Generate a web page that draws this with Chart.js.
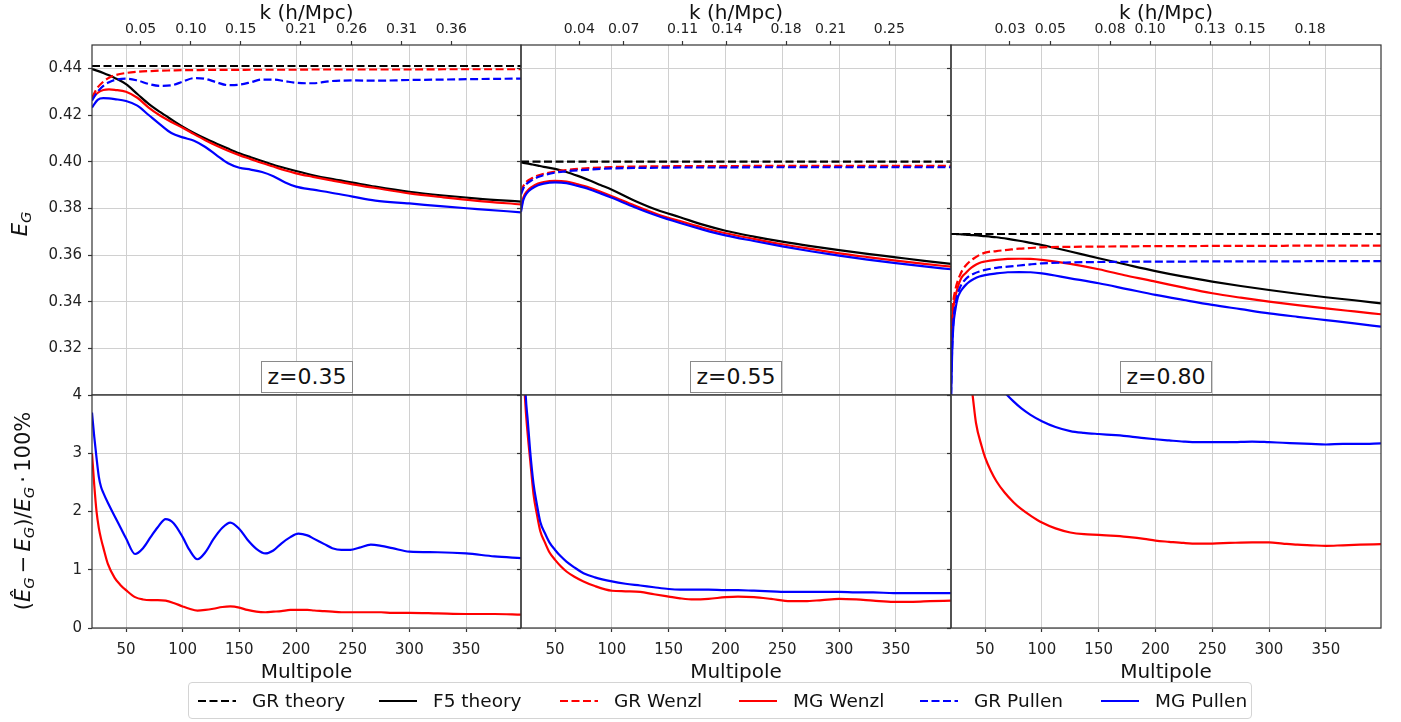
<!DOCTYPE html>
<html><head><meta charset="utf-8">
<script src="https://cdn.jsdelivr.net/npm/chart.js@4.4.0/dist/chart.umd.min.js"></script>
<style>
body{margin:0;width:1401px;height:722px;background:#fff;position:relative;overflow:hidden;font-family:'DejaVu Sans',sans-serif;}
canvas{position:absolute;}
.zbox{position:absolute;top:361px;width:92px;height:32px;line-height:30px;border:1px solid #8a8a8a;background:#fff;font-size:22px;text-align:center;color:#111;box-sizing:border-box;}
.ylab{position:absolute;transform:translate(-50%,-50%) rotate(-90deg);white-space:nowrap;font-size:21px;color:#111;}
.ylab sub{font-size:0.7em;vertical-align:-0.25em;line-height:0;}
.op{margin:0 0.2em;}
#legend{position:absolute;left:188px;top:682px;width:1064px;height:37px;border:1px solid #d4d4d4;border-radius:4px;background:#fff;box-sizing:border-box;}
.li{position:absolute;top:0;height:35px;display:flex;align-items:center;font-size:18.5px;color:#111;white-space:nowrap;}
.li svg{margin-right:16px;}
</style></head><body>
<script>
// ---------- shared axis values ----------
const ELL_MIN = 20, ELL_MAX = 398.5;
const multipoleTicks = [50, 100, 150, 200, 250, 300, 350];
const egTicks = [0.32, 0.34, 0.36, 0.38, 0.40, 0.42, 0.44];
const diffTicks = [0, 1, 2, 3, 4];
const ellEnds = [20, 398.5];

// k (h/Mpc) top-axis ticks (positions in multipole, labels in k)
const kPos035 = [62.9, 107.3, 151.2, 204.3, 249.0, 293.2, 337.0];
const kLab035 = ['0.05', '0.10', '0.15', '0.21', '0.26', '0.31', '0.36'];
const kPos055 = [71.3, 110.4, 162.3, 201.3, 253.3, 292.6, 344.2];
const kLab055 = ['0.04', '0.07', '0.11', '0.14', '0.18', '0.21', '0.25'];
const kPos080 = [71.9, 107.4, 160.0, 195.2, 248.0, 283.2, 336.0];
const kLab080 = ['0.03', '0.05', '0.08', '0.10', '0.13', '0.15', '0.18'];

// ---------- z = 0.35, E_G ----------
const ell035 = [20,25,30,35,40,50,60,70,80,90,100,110,120,130,140,150,160,170,180,190,200,215,230,250,270,300,330,360,398.5];
const grTheory035 = [0.441, 0.441];
const f5Theory035 = [0.4397,0.4389,0.4380,0.4370,0.4359,0.4332,0.4290,0.4248,0.4213,0.4181,0.4150,0.4123,0.4099,0.4077,0.4056,0.4036,0.4019,0.4003,0.3987,0.3973,0.3960,0.3942,0.3927,0.3910,0.3893,0.3871,0.3855,0.3842,0.3829];
const grWenzl035 = [0.4275,0.4318,0.4343,0.4360,0.4370,0.4380,0.4385,0.4388,0.4390,0.4391,0.4392,0.4392,0.4393,0.4393,0.4393,0.4393,0.4394,0.4394,0.4394,0.4394,0.4394,0.4395,0.4395,0.4395,0.4395,0.4395,0.4396,0.4396,0.4396];
const mgWenzl035 = [0.4272,0.4295,0.4307,0.4310,0.4308,0.4300,0.4274,0.4232,0.4198,0.4170,0.4145,0.4118,0.4092,0.4068,0.4047,0.4028,0.4011,0.3994,0.3979,0.3963,0.3950,0.3935,0.3921,0.3903,0.3887,0.3864,0.3847,0.3832,0.3817];
const grPullen035 = [0.4262,0.4300,0.4325,0.4340,0.4350,0.4356,0.4348,0.4333,0.4325,0.4327,0.4343,0.4358,0.4355,0.4340,0.4328,0.4330,0.4340,0.4352,0.4352,0.4345,0.4338,0.4336,0.4345,0.4348,0.4347,0.4350,0.4352,0.4354,0.4356];
const mgPullen035 = [0.4232,0.4265,0.4272,0.4271,0.4268,0.4260,0.4240,0.4200,0.4160,0.4123,0.4104,0.4090,0.4063,0.4027,0.3993,0.3974,0.3966,0.3956,0.3938,0.3912,0.3893,0.3880,0.3868,0.3850,0.3833,0.3821,0.3808,0.3797,0.3783];

// ---------- z = 0.55, E_G ----------
const ell055 = [20,22,25,30,35,40,50,60,70,80,90,100,120,140,160,180,200,225,250,275,300,325,350,375,398.5];
const grTheory055 = [0.400, 0.400];
const f5Theory055 = [0.3997,0.3995,0.3993,0.3988,0.3983,0.3978,0.3969,0.3956,0.3939,0.3920,0.3900,0.3880,0.3833,0.3793,0.3762,0.3730,0.3704,0.3679,0.3657,0.3638,0.3621,0.3605,0.3590,0.3575,0.3562];
const grWenzl055 = [0.3870,0.3895,0.3915,0.3930,0.3941,0.3948,0.3958,0.3964,0.3969,0.3972,0.3975,0.3977,0.3979,0.3980,0.3981,0.3981,0.3981,0.3982,0.3982,0.3982,0.3982,0.3982,0.3982,0.3982,0.3982];
const mgWenzl055 = [0.3795,0.3845,0.3872,0.3893,0.3906,0.3913,0.3918,0.3915,0.3903,0.3889,0.3871,0.3852,0.3812,0.3775,0.3745,0.3717,0.3693,0.3669,0.3646,0.3626,0.3607,0.3591,0.3576,0.3562,0.3550];
const grPullen055 = [0.3860,0.3885,0.3905,0.3922,0.3934,0.3942,0.3953,0.3959,0.3963,0.3966,0.3969,0.3971,0.3973,0.3974,0.3975,0.3975,0.3975,0.3976,0.3976,0.3976,0.3976,0.3976,0.3976,0.3976,0.3976];
const mgPullen055 = [0.3785,0.3835,0.3864,0.3886,0.3899,0.3906,0.3911,0.3908,0.3896,0.3882,0.3864,0.3845,0.3805,0.3768,0.3737,0.3709,0.3684,0.3660,0.3637,0.3616,0.3597,0.3580,0.3565,0.3551,0.3539];

// ---------- z = 0.80, E_G ----------
const ell080 = [20,21,22,24,26,28,30,33,36,40,45,50,60,70,80,90,100,125,150,175,200,225,250,275,300,325,350,375,398.5];
const grTheory080 = [0.369, 0.369];
const f5Theory080 = [0.3690,0.3690,0.3690,0.3690,0.3689,0.3689,0.3688,0.3687,0.3686,0.3685,0.3683,0.3681,0.3676,0.3669,0.3661,0.3652,0.3643,0.3615,0.3586,0.3558,0.3531,0.3507,0.3486,0.3467,0.3450,0.3434,0.3419,0.3406,0.3393];
const grWenzl080 = [0.326,0.334,0.340,0.3455,0.349,0.3515,0.3535,0.3555,0.357,0.3585,0.3600,0.3610,0.3617,0.3622,0.3627,0.3630,0.3633,0.3635,0.3636,0.3637,0.3638,0.3638,0.3639,0.3639,0.3639,0.3640,0.3640,0.3640,0.3640];
const mgWenzl080 = [0.322,0.330,0.337,0.3425,0.3462,0.349,0.3508,0.3523,0.3538,0.3553,0.3566,0.3572,0.3579,0.3583,0.3584,0.3583,0.3579,0.3562,0.3539,0.3511,0.3486,0.3460,0.3436,0.3417,0.3400,0.3385,0.3371,0.3358,0.3346];
const grPullen080 = [0.300,0.320,0.331,0.339,0.3435,0.3462,0.348,0.3497,0.351,0.352,0.3529,0.3536,0.3545,0.3550,0.3555,0.3560,0.3564,0.3568,0.3570,0.3571,0.3572,0.3572,0.3573,0.3573,0.3573,0.3573,0.3574,0.3574,0.3574];
const mgPullen080 = [0.296,0.318,0.329,0.337,0.3418,0.3440,0.3455,0.3472,0.3485,0.3497,0.3508,0.3514,0.3521,0.3526,0.3527,0.3526,0.3521,0.3500,0.3479,0.3454,0.3429,0.3407,0.3386,0.3368,0.3350,0.3335,0.3321,0.3307,0.3293];

// ---------- relative differences (%) ----------
const ellDiff035 = [20,22,24,26,28,30,34,40,45,50,58,65,72,78,85,92,100,106,113,120,127,135,142,150,157,165,173,180,187,195,202,210,216,225,232,240,248,256,266,275,285,300,325,350,375,398.5];
const diffPullen035 = [3.70,3.28,2.92,2.60,2.42,2.32,2.15,1.92,1.73,1.54,1.27,1.37,1.57,1.73,1.87,1.80,1.56,1.34,1.18,1.30,1.52,1.72,1.81,1.70,1.52,1.36,1.28,1.33,1.45,1.56,1.62,1.59,1.53,1.44,1.37,1.34,1.34,1.38,1.43,1.41,1.37,1.31,1.30,1.28,1.23,1.20];
const diffWenzl035 = [3.00,2.45,2.00,1.72,1.53,1.38,1.10,0.86,0.74,0.65,0.53,0.49,0.48,0.48,0.47,0.43,0.37,0.33,0.30,0.31,0.33,0.36,0.37,0.35,0.31,0.28,0.27,0.28,0.29,0.31,0.31,0.31,0.30,0.29,0.28,0.27,0.27,0.27,0.27,0.27,0.26,0.26,0.25,0.24,0.24,0.23];

const ellDiff055 = [20,22,24,26,28,31,34,37,41,45,50,55,60,67,75,85,100,112,125,137,150,160,172,185,200,211,225,240,257,270,285,300,315,330,348,365,380,398.5];
const diffWenzl055 = [6.5,4.6,3.8,3.3,2.9,2.30,1.95,1.66,1.47,1.30,1.17,1.06,0.97,0.88,0.80,0.72,0.64,0.63,0.62,0.58,0.54,0.51,0.49,0.50,0.53,0.54,0.53,0.50,0.46,0.46,0.48,0.50,0.49,0.47,0.45,0.45,0.46,0.47];
const diffPullen055 = [7.5,5.3,4.05,3.55,3.05,2.48,2.12,1.82,1.63,1.47,1.34,1.23,1.14,1.04,0.94,0.87,0.80,0.76,0.73,0.70,0.67,0.66,0.66,0.66,0.65,0.65,0.64,0.63,0.62,0.62,0.62,0.62,0.61,0.61,0.60,0.60,0.60,0.60];

const ellDiff080 = [20,25,30,35,39,42,47,50,55,60,67,75,82,90,100,112,125,137,150,165,177,190,200,212,225,237,250,265,285,300,312,325,337,350,365,380,398.5];
const diffWenzl080 = [9.0,7.0,5.6,4.6,4.0,3.52,3.12,2.93,2.70,2.52,2.33,2.16,2.04,1.93,1.81,1.71,1.64,1.61,1.60,1.58,1.56,1.53,1.50,1.48,1.46,1.45,1.45,1.46,1.47,1.47,1.45,1.43,1.42,1.41,1.42,1.43,1.44];
const diffPullen080 = [6.6,6.0,5.5,5.15,4.95,4.82,4.62,4.52,4.36,4.22,4.05,3.89,3.77,3.66,3.55,3.45,3.38,3.35,3.33,3.31,3.29,3.26,3.24,3.22,3.20,3.19,3.19,3.19,3.20,3.19,3.18,3.17,3.16,3.15,3.16,3.16,3.17];

// ---------- rendering ----------
Chart.defaults.font.family = "'DejaVu Sans', sans-serif";
const GRID = '#d0d0d0', AXIS = '#333', TXT = '#222';
const BLACK = '#000000', RED = '#ff0000', BLUE = '#0000ff';

function ds(label, xs, ys, color, dashed, order) {
  return { label, data: xs.map((x, i) => ({ x, y: ys[i] })), borderColor: color, borderWidth: 2.2,
    borderDash: dashed ? [8, 3.5] : [], pointRadius: 0, fill: false, cubicInterpolationMode: 'monotone', order };
}

const frame = { id: 'frame', afterDraw(ch) {
  const { ctx, chartArea: a } = ch;
  ctx.save(); ctx.strokeStyle = AXIS; ctx.lineWidth = 1.2;
  ctx.strokeRect(a.left, a.top, a.right - a.left, a.bottom - a.top); ctx.restore();
} };

function makePanel(c) {
  const cv = document.createElement('canvas');
  const W = c.padL + c.w + c.padR, H = c.padT + c.h + c.padB;
  cv.width = W; cv.height = H;
  cv.style.left = (c.left - c.padL) + 'px';
  cv.style.top = (c.top - c.padT) + 'px';
  cv.style.width = W + 'px'; cv.style.height = H + 'px';
  document.body.appendChild(cv);
  const scales = {
    x: {
      type: 'linear', min: ELL_MIN, max: ELL_MAX, position: 'bottom',
      afterBuildTicks: a => { a.ticks = multipoleTicks.map(v => ({ value: v })); },
      afterFit: a => { a.height = c.xLabels ? c.padB : 0; a.paddingLeft = 0; a.paddingRight = 0; },
      border: { display: false },
      grid: { color: GRID, lineWidth: 1, drawTicks: c.xLabels, tickLength: 4, tickColor: AXIS, tickWidth: 1.2 },
      ticks: { display: c.xLabels, autoSkip: false, maxRotation: 0, padding: 9, font: { size: 15 }, color: TXT, callback: v => String(v) },
      title: { display: c.xLabels, text: 'Multipole', font: { size: 20 }, color: '#111', padding: { top: 0, bottom: 0 } }
    },
    y: {
      type: 'linear', min: c.yMin, max: c.yMax, position: 'left',
      afterBuildTicks: a => { a.ticks = c.yTicks.map(v => ({ value: v })); },
      afterFit: a => { a.width = c.padL; a.paddingTop = 0; a.paddingBottom = 0; },
      border: { display: false },
      grid: { color: GRID, lineWidth: 1, drawTicks: true, tickLength: 4, tickColor: AXIS, tickWidth: 1.2 },
      ticks: { display: c.yLabels, autoSkip: false, padding: 6, font: { size: 15 }, color: TXT, callback: c.yFmt }
    }
  };
  if (c.kPos) {
    scales.xTop = {
      type: 'linear', min: ELL_MIN, max: ELL_MAX, position: 'top',
      afterBuildTicks: a => { a.ticks = c.kPos.map(v => ({ value: v })); },
      afterFit: a => { a.height = c.padT; a.paddingLeft = 0; a.paddingRight = 0; },
      border: { display: false },
      grid: { display: true, drawOnChartArea: false, drawTicks: true, tickLength: 4, tickColor: AXIS, tickWidth: 1.2 },
      ticks: { autoSkip: false, maxRotation: 0, padding: 3, font: { size: 14 }, color: TXT, callback: (v, i) => c.kLab[i] },
      title: { display: true, text: 'k (h/Mpc)', font: { size: 20 }, color: '#111', padding: { top: 2, bottom: 0 } }
    };
  }
  new Chart(cv, {
    type: 'line',
    data: { datasets: c.datasets },
    options: {
      responsive: false, animation: false, devicePixelRatio: 1, events: [],
      layout: { padding: { left: 0, right: c.padR, top: c.kPos ? 0 : c.padT, bottom: c.xLabels ? 0 : c.padB } },
      plugins: { legend: { display: false }, tooltip: { enabled: false } },
      scales
    },
    plugins: [frame]
  });
}

const cols = [{ left: 92, w: 429 }, { left: 521, w: 430 }, { left: 951, w: 430 }];
const topSets = [
  [ell035, grTheory035, f5Theory035, grWenzl035, mgWenzl035, grPullen035, mgPullen035, kPos035, kLab035],
  [ell055, grTheory055, f5Theory055, grWenzl055, mgWenzl055, grPullen055, mgPullen055, kPos055, kLab055],
  [ell080, grTheory080, f5Theory080, grWenzl080, mgWenzl080, grPullen080, mgPullen080, kPos080, kLab080]
];
const botSets = [
  [ellDiff035, diffWenzl035, diffPullen035],
  [ellDiff055, diffWenzl055, diffPullen055],
  [ellDiff080, diffWenzl080, diffPullen080]
];

topSets.forEach((s, i) => {
  makePanel({
    left: cols[i].left, w: cols[i].w, top: 45, h: 350,
    padL: i === 0 ? 92 : 6, padT: 45, padB: 6, padR: 6,
    yMin: 0.30, yMax: 0.45, yTicks: egTicks, yLabels: i === 0, yFmt: v => v.toFixed(2),
    xLabels: false, kPos: s[7], kLab: s[8],
    datasets: [
      ds('GR theory', ellEnds, s[1], BLACK, true, 5),
      ds('F5 theory', s[0], s[2], BLACK, false, 4),
      ds('GR Wenzl', s[0], s[3], RED, true, 3),
      ds('MG Wenzl', s[0], s[4], RED, false, 2),
      ds('GR Pullen', s[0], s[5], BLUE, true, 1),
      ds('MG Pullen', s[0], s[6], BLUE, false, 0)
    ]
  });
});
botSets.forEach((s, i) => {
  makePanel({
    left: cols[i].left, w: cols[i].w, top: 395, h: 233,
    padL: i === 0 ? 92 : 6, padT: 14, padB: 57, padR: 6,
    yMin: 0, yMax: 4, yTicks: diffTicks, yLabels: i === 0, yFmt: v => String(v),
    xLabels: true, kPos: null,
    datasets: [
      ds('MG Wenzl', s[0], s[1], RED, false, 1),
      ds('MG Pullen', s[0], s[2], BLUE, false, 0)
    ]
  });
});
</script>

<div class="zbox" style="left:261px">z=0.35</div>
<div class="zbox" style="left:690px">z=0.55</div>
<div class="zbox" style="left:1120px">z=0.80</div>

<div class="ylab" style="left:20px;top:224px"><i>E</i><sub><i>G</i></sub></div>
<div class="ylab" style="left:23px;top:511px">(<i>Ê</i><sub><i>G</i></sub><span class="op">−</span><i>E</i><sub><i>G</i></sub>)/<i>E</i><sub><i>G</i></sub><span class="op">·</span>100%</div>

<div id="legend">
  <div class="li" style="left:9px"><svg width="38" height="6"><line x1="0" y1="3" x2="38" y2="3" stroke="#000" stroke-width="2.2" stroke-dasharray="8,3.5"/></svg>GR theory</div>
  <div class="li" style="left:190px"><svg width="38" height="6"><line x1="0" y1="3" x2="38" y2="3" stroke="#000" stroke-width="2.2"/></svg>F5 theory</div>
  <div class="li" style="left:371px"><svg width="38" height="6"><line x1="0" y1="3" x2="38" y2="3" stroke="#ff0000" stroke-width="2.2" stroke-dasharray="8,3.5"/></svg>GR Wenzl</div>
  <div class="li" style="left:550px"><svg width="38" height="6"><line x1="0" y1="3" x2="38" y2="3" stroke="#ff0000" stroke-width="2.2"/></svg>MG Wenzl</div>
  <div class="li" style="left:731px"><svg width="38" height="6"><line x1="0" y1="3" x2="38" y2="3" stroke="#0000ff" stroke-width="2.2" stroke-dasharray="8,3.5"/></svg>GR Pullen</div>
  <div class="li" style="left:912px"><svg width="38" height="6"><line x1="0" y1="3" x2="38" y2="3" stroke="#0000ff" stroke-width="2.2"/></svg>MG Pullen</div>
</div>
</body></html>
